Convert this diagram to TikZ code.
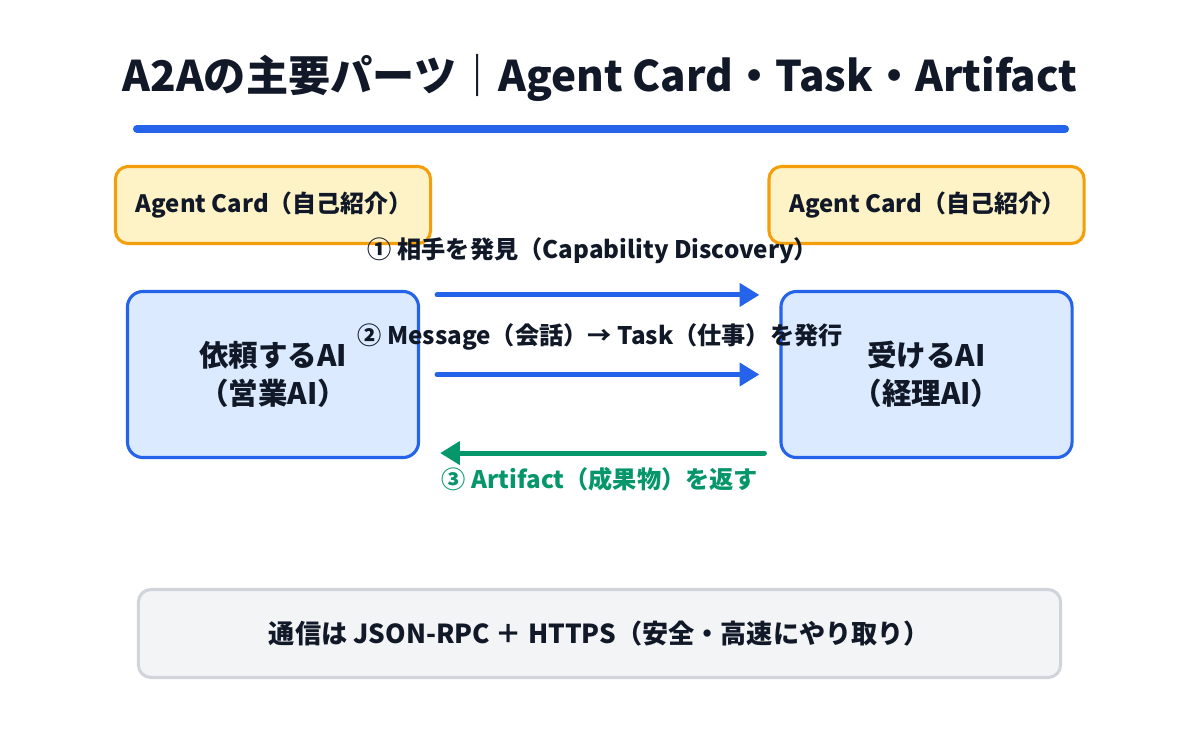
\documentclass[tikz,border=0pt]{standalone}
\usepackage{fontspec}
\setmainfont{Noto Sans CJK JP}
\usetikzlibrary{calc}
\usetikzlibrary{arrows.meta}
\tikzset{>={Triangle[width=16pt,length=14pt]}}

\definecolor{ink}{HTML}{111827}
\definecolor{blueline}{HTML}{2563EB}
\definecolor{bluefill}{HTML}{DBEAFE}
\definecolor{cardline}{HTML}{F59E0B}
\definecolor{cardfill}{HTML}{FEF3C7}
\definecolor{greenline}{HTML}{059669}
\definecolor{grayline}{HTML}{D1D5DB}
\definecolor{grayfill}{HTML}{F3F4F6}

\tikzset{
  card/.style={draw=cardline, fill=cardfill, line width=2.2pt, rounded corners=9pt,
    minimum width=7.875cm, minimum height=1.925cm},
  agent/.style={draw=blueline, fill=bluefill, line width=2.2pt, rounded corners=11pt,
    minimum width=7.275cm, minimum height=4.15cm, align=center,
    font=\bfseries\fontsize{21}{27}\selectfont, text=ink},
  base/.style={draw=grayline, fill=grayfill, line width=2.2pt, rounded corners=9pt,
    minimum width=23.05cm, minimum height=2.2cm},
  lbl/.style={font=\bfseries\fontsize{17.2}{20}\selectfont, text=ink},
  flow/.style={->, draw=blueline, line width=3.6pt, line cap=round},
  back/.style={->, draw=greenline, line width=3.6pt, line cap=round},
}

\begin{document}
\begin{tikzpicture}[x=0.025cm, y=-0.025cm]
  \useasboundingbox[fill=white] (0,0) rectangle (1200,749);

  % title
  \node[text=ink, font=\bfseries\fontsize{30}{36}\selectfont] (TITLE) at (600,78)
    {A2Aの主要パーツ｜Agent Card・Task・Artifact};
  \draw[blueline, line width=5.7pt, line cap=round] (137,129) -- (1065,129);

  % agent cards
  \node[card] (CARDL) at (273,205) {};
  \node[card] (CARDR) at (926.5,205) {};
  \node[lbl, font=\bfseries\fontsize{17}{20}\selectfont, anchor=west] (NAMEL) at ($(CARDL.west)+(17,0)$) {Agent Card（自己紹介）};
  \node[lbl, font=\bfseries\fontsize{17}{20}\selectfont, anchor=west] (NAMER) at ($(CARDR.west)+(17,0)$) {Agent Card（自己紹介）};

  % the two agents
  \node[agent] (LEFT) at (273,374.5) {依頼するAI\\（営業AI）};
  \node[agent] (RIGHT) at (926.5,374.5) {受けるAI\\（経理AI）};

  \draw[flow] ($(LEFT.north east)+(17,5)$) -- ($(RIGHT.north west)+(-20,5)$);
  \draw[flow] ($(LEFT.east)+(17,0)$) -- ($(RIGHT.west)+(-20,0)$);
  \draw[back] ($(RIGHT.south west)+(-15,-6)$) -- ($(LEFT.south east)+(20,-6)$);

  \node[lbl] (STEP1) at (593,251) {① 相手を発見（Capability Discovery）};
  \node[lbl] (STEP2) at (600,337) {② Message（会話）→ Task（仕事）を発行};
  \node[lbl, text=greenline] (STEP3) at (600,479) {③ Artifact（成果物）を返す};

  % transport
  \node[base] (BASE) at (599.5,633.5) {};
  \node[text=ink, font=\bfseries\fontsize{18.6}{22}\selectfont] (PROTO) at (BASE)
    {通信は JSON-RPC ＋ HTTPS（安全・高速にやり取り）};
\end{tikzpicture}
\end{document}
